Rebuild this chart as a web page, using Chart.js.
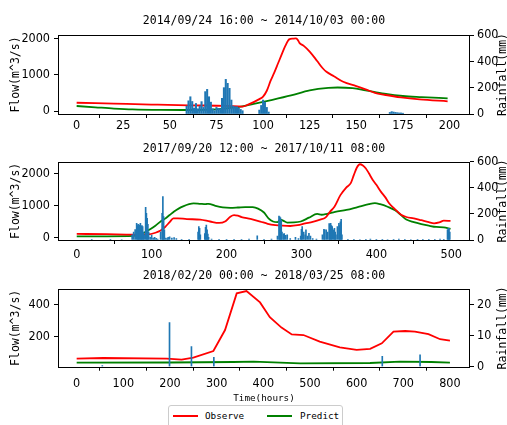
<!DOCTYPE html>
<html>
<head>
<meta charset="utf-8">
<script src="https://cdn.jsdelivr.net/npm/chart.js@4.4.1/dist/chart.umd.min.js"></script>
<style>
  html, body { margin: 0; padding: 0; background: #fff; width: 507px; height: 425px; overflow: hidden; position: relative; }
  canvas { position: absolute; left: 0; }
  #legend { position: absolute; left: 168px; top: 405px; width: 175px; height: 30px; border: 1px solid #ccc; border-radius: 3px; background: #fff; box-sizing: border-box; font: 9.3px "DejaVu Sans Mono", monospace; color: #000; }
  #legend .sw { position: absolute; height: 2px; top: 9px; width: 25px; }
  #legend .lb { position: absolute; top: 4px; line-height: 12px; }
</style>
</head>
<body>
<canvas id="panel1" width="510" height="135" style="top:0px"></canvas>
<canvas id="panel2" width="510" height="135" style="top:135px"></canvas>
<canvas id="panel3" width="510" height="142" style="top:262px"></canvas>
<div id="legend"></div>
<script>
const SERIES = ['Observe', 'Predict'];
const SERIES_COLORS = ['#ff0000', '#008000'];
const RAIN_COLOR = '#1f77b4';

const titles = [
  '2014/09/24 16:00 ~ 2014/10/03 00:00',
  '2017/09/20 12:00 ~ 2017/10/11 08:00',
  '2018/02/20 00:00 ~ 2018/03/25 08:00'
];

// panel 1
const obsHours1 = [0, 20, 40, 60, 80, 89, 92, 98, 100, 102, 104, 106, 108, 110, 112, 114, 116, 117.5, 118.5, 119.5, 122, 125, 129, 132, 134, 138, 143, 150, 155, 160, 165, 174, 184, 199];
const obsFlow1 = [230, 205, 180, 158, 145, 125, 180, 330, 400, 560, 830, 1060, 1310, 1560, 1800, 1975, 1995, 2000, 1970, 1880, 1790, 1640, 1380, 1180, 1082, 960, 807, 690, 600, 500, 450, 376, 321, 270];
const predHours1 = [0, 10, 20, 30, 45, 60, 75, 85, 95, 105, 115, 125, 135, 140, 148, 155, 165, 175, 185, 199];
const predFlow1 = [140, 105, 70, 45, 32, 30, 50, 100, 200, 310, 430, 570, 640, 650, 630, 570, 480, 415, 385, 350];
const rainHours1 = [59, 60, 61, 62, 63, 64, 65, 66, 67, 68, 69, 70, 71, 72, 73, 74, 75, 76, 77, 78, 79, 80, 81, 82, 83, 84, 85, 86, 87, 88, 89, 98, 99, 100, 101, 102, 103, 168, 169, 170, 171, 172, 173, 174, 175];
const rainMm1 = [60, 100, 131, 95, 45, 80, 40, 60, 94, 50, 170, 187, 131, 90, 40, 25, 50, 43, 40, 119, 200, 263, 233, 195, 106, 60, 55, 55, 45, 35, 25, 30, 65, 106, 90, 50, 15, 12, 18, 15, 12, 10, 8, 8, 6];
const xTicks1 = [0, 25, 50, 75, 100, 125, 150, 175, 200];
const flowTicks1 = [0, 1000, 2000];
const rainTicks1 = [0, 200, 400, 600];

// panel 2
const obsHours2 = [0, 40, 76, 95, 105, 112, 118, 124, 129, 135, 147, 165, 178, 190, 198, 205, 210, 215, 220, 232, 245, 255, 265, 275, 285, 295, 305, 315, 325, 332, 338, 344, 352, 360, 366, 370, 374, 378, 382, 386, 390, 395, 400, 406, 412, 417, 425, 433, 440, 450, 460, 470, 477, 484, 490, 499];
const obsFlow2 = [114, 105, 95, 100, 150, 220, 330, 480, 600, 600, 575, 560, 500, 455, 500, 650, 700, 680, 640, 580, 500, 430, 390, 370, 360, 385, 440, 490, 560, 620, 800, 960, 1320, 1560, 1700, 1950, 2180, 2280, 2240, 2150, 2000, 1800, 1640, 1430, 1250, 1070, 880, 710, 640, 600, 540, 480, 445, 470, 525, 518];
const predHours2 = [0, 40, 76, 85, 92, 98, 105, 112, 118, 124, 130, 136, 142, 150, 156, 165, 172, 176, 185, 195, 205, 215, 225, 235, 242, 250, 256, 262, 268, 272, 276, 281, 290, 299, 310, 321, 327, 333, 345, 360, 375, 390, 398, 405, 415, 425, 433, 440, 450, 460, 470, 480, 490, 499];
const predFlow2 = [40, 40, 52, 90, 180, 260, 370, 500, 590, 700, 810, 900, 970, 1040, 1065, 1050, 1040, 1050, 990, 940, 925, 935, 950, 945, 900, 780, 600, 500, 480, 560, 520, 466, 470, 500, 620, 736, 710, 730, 800, 860, 950, 1040, 1070, 1040, 960, 850, 700, 560, 480, 420, 370, 330, 320, 270];
const rainHours2 = [20, 45, 60, 74, 76, 78, 80, 81, 82, 83, 84, 85, 86, 87, 88, 89, 90, 92, 93, 94, 95, 96, 98, 100, 102, 104, 106, 108, 112, 114, 115, 116, 117, 119, 121, 122, 124, 127, 130, 133, 140, 150, 162, 163, 164, 165, 171, 172, 173, 174, 175, 176, 180, 190, 200, 210, 220, 230, 241, 250, 260, 268, 270, 271, 272, 273, 274, 276, 277, 279, 281, 285, 292, 296, 299, 300, 301, 303, 305, 306, 308, 310, 312, 315, 320, 328, 330, 331, 333, 335, 337, 338, 339, 340, 341, 343, 344, 345, 346, 348, 350, 351, 352, 353, 354, 362, 370, 378, 386, 392, 400, 408, 415, 423, 430, 438, 446, 455, 462, 470, 478, 485, 490, 495, 496, 497, 498];
const rainMm2 = [3, 3, 4, 40, 60, 80, 128, 110, 120, 100, 115, 128, 105, 110, 102, 60, 40, 250, 204, 166, 120, 60, 20, 38, 15, 20, 12, 8, 60, 204, 332, 180, 77, 15, 10, 20, 25, 15, 18, 10, 6, 5, 60, 102, 90, 40, 50, 97, 115, 77, 46, 20, 8, 5, 6, 5, 6, 8, 31, 6, 8, 30, 184, 178, 170, 153, 60, 45, 50, 35, 40, 10, 20, 10, 30, 82, 102, 60, 40, 77, 30, 51, 30, 10, 8, 40, 82, 77, 77, 60, 126, 115, 128, 110, 102, 77, 89, 60, 40, 102, 128, 110, 140, 158, 40, 5, 6, 4, 5, 8, 5, 6, 4, 5, 7, 5, 4, 6, 5, 6, 5, 7, 5, 77, 90, 89, 60];
const xTicks2 = [0, 100, 200, 300, 400, 500];
const flowTicks2 = [0, 1000, 2000];
const rainTicks2 = [0, 200, 400, 600];

// panel 3
const obsHours3 = [0, 57, 193, 225, 250, 293, 318, 343, 364, 393, 414, 439, 461, 486, 521, 564, 600, 629, 654, 679, 704, 725, 754, 779, 800];
const obsFlow3 = [64, 68, 64, 58, 70, 111, 241, 468, 482, 412, 320, 256, 214, 210, 169, 134, 118, 124, 159, 231, 235, 231, 216, 184, 175];
const predHours3 = [0, 200, 336, 379, 479, 629, 693, 760, 800];
const predFlow3 = [39, 40, 43, 45, 35, 37, 45, 43, 39];
const rainHours3 = [55, 199, 246, 294, 655, 736];
const rainMm3 = [0.4, 14.2, 6.5, 3.0, 3.3, 3.8];
const xTicks3 = [0, 100, 200, 300, 400, 500, 600, 700, 800];
const flowTicks3 = [200, 400];
const rainTicks3 = [0, 10, 20];

const MONO = '"DejaVu Sans Mono", monospace';
const TICK_FONT = '"Liberation Sans Narrow", "DejaVu Sans Condensed", "Liberation Sans", sans-serif';

function pairs(xs, ys) {
  return xs.map((x, i) => ({ x: x, y: ys[i] }));
}

// matplotlib style box round the plot area
const frame = {
  id: 'frame',
  afterDraw(chart) {
    const a = chart.chartArea;
    const ctx = chart.ctx;
    ctx.save();
    ctx.strokeStyle = '#000';
    ctx.lineWidth = 1;
    ctx.strokeRect(Math.round(a.left) + 0.5, Math.round(a.top) + 0.5, Math.round(a.right - a.left) - 1, Math.round(a.bottom - a.top));
    ctx.restore();
  }
};

// twin axis label, read bottom to top like matplotlib's
const rightTitle = {
  id: 'rightTitle',
  afterDraw(chart, args, opts) {
    const a = chart.chartArea;
    const ctx = chart.ctx;
    ctx.save();
    ctx.translate(opts.x, (a.top + a.bottom) / 2);
    ctx.rotate(-Math.PI / 2);
    ctx.font = '11.5px ' + MONO;
    ctx.fillStyle = '#000';
    ctx.textAlign = 'center';
    ctx.textBaseline = 'middle';
    ctx.fillText(opts.text, 0, 0);
    ctx.restore();
  }
};

function fixedTicks(list) {
  return function(scale) {
    scale.ticks = list.map(v => ({ value: v }));
  };
}

function tickMarks() {
  return { display: true, drawOnChartArea: false, drawTicks: true, tickLength: 4, color: '#000' };
}

function makePanel(id, p) {
  const ctx = document.getElementById(id);
  return new Chart(ctx, {
    type: 'line',
    data: {
      datasets: [
        {
          type: 'bar',
          label: 'Rainfall',
          data: pairs(p.rainHours, p.rainMm),
          yAxisID: 'y1',
          backgroundColor: RAIN_COLOR,
          barThickness: p.barWidth,
          order: 0
        },
        {
          label: SERIES[0],
          data: pairs(p.obsHours, p.obsFlow),
          yAxisID: 'y',
          borderColor: SERIES_COLORS[0],
          borderWidth: 1.8,
          pointRadius: 0,
          cubicInterpolationMode: p.smooth ? 'monotone' : 'default',
          tension: 0,
          order: 1
        },
        {
          label: SERIES[1],
          data: pairs(p.predHours, p.predFlow),
          yAxisID: 'y',
          borderColor: SERIES_COLORS[1],
          borderWidth: 1.8,
          pointRadius: 0,
          cubicInterpolationMode: p.smooth ? 'monotone' : 'default',
          tension: 0,
          order: 2
        }
      ]
    },
    options: {
      responsive: false,
      animation: false,
      devicePixelRatio: 1,
      layout: { padding: 0 },
      plugins: {
        legend: { display: false },
        tooltip: { enabled: false },
        title: {
          display: true,
          fullSize: false,
          text: p.title,
          color: '#000',
          font: { family: MONO, size: 11.5, weight: 'normal', lineHeight: 1.2 },
          padding: { top: p.titlePad[0], bottom: p.titlePad[1] }
        },
        rightTitle: { text: 'Rainfall(mm)', x: 503 }
      },
      scales: {
        x: {
          type: 'linear',
          min: p.xMin,
          max: p.xMax,
          offset: false,
          afterBuildTicks: fixedTicks(p.xTicks),
          afterFit: (s) => { s.height = p.xAxisH; },
          grid: tickMarks(),
          border: { display: false },
          ticks: {
            color: '#000', padding: p.xTickPad, autoSkip: false, maxRotation: 0,
            font: { family: TICK_FONT, size: 12.5 },
            callback: (v) => String(v)
          },
          title: {
            display: !!p.xTitle,
            text: p.xTitle || '',
            color: '#000',
            font: { family: MONO, size: 9.3, lineHeight: 1.2 },
            padding: { top: 0, bottom: 0 }
          }
        },
        y: {
          position: 'left',
          min: p.flowMin,
          max: p.flowMax,
          afterBuildTicks: fixedTicks(p.flowTicks),
          afterFit: (s) => { s.width = 58; },
          grid: tickMarks(),
          border: { display: false },
          ticks: {
            color: '#000', padding: 4,
            font: { family: TICK_FONT, size: 12.5 },
            callback: (v) => String(v)
          },
          title: {
            display: true,
            text: 'Flow(m^3/s)',
            color: '#000',
            font: { family: MONO, size: 11.5, lineHeight: 1.2 },
            padding: { top: 9, bottom: 0 }
          }
        },
        y1: {
          position: 'right',
          min: 0,
          max: p.rainMax,
          afterBuildTicks: fixedTicks(p.rainTicks),
          afterFit: (s) => { s.width = 40; },
          grid: tickMarks(),
          border: { display: false },
          ticks: {
            color: '#000', padding: 3,
            font: { family: TICK_FONT, size: 12.5 },
            callback: (v) => String(v)
          }
        }
      }
    },
    plugins: [frame, rightTitle]
  });
}

makePanel('panel1', {
  title: titles[0], titlePad: [14.6, 6.6], xAxisH: 21, xTickPad: 0,
  obsHours: obsHours1, obsFlow: obsFlow1, predHours: predHours1, predFlow: predFlow1,
  rainHours: rainHours1, rainMm: rainMm1, barWidth: 1.4, smooth: true,
  xMin: -10, xMax: 211, xTicks: xTicks1,
  flowMin: -80, flowMax: 2095, flowTicks: flowTicks1,
  rainMax: 600, rainTicks: rainTicks1
});

makePanel('panel2', {
  title: titles[1], titlePad: [7.1, 5.8], xAxisH: 30, xTickPad: 3.5,
  obsHours: obsHours2, obsFlow: obsFlow2, predHours: predHours2, predFlow: predFlow2,
  rainHours: rainHours2, rainMm: rainMm2, barWidth: 1, smooth: true,
  xMin: -25, xMax: 525, xTicks: xTicks2,
  flowMin: -75, flowMax: 2360, flowTicks: flowTicks2,
  rainMax: 600, rainTicks: rainTicks2
});

makePanel('panel3', {
  title: titles[2], titlePad: [7.1, 6.1], xAxisH: 37.3, xTickPad: 5.5, xTitle: 'Time(hours)',
  obsHours: obsHours3, obsFlow: obsFlow3, predHours: predHours3, predFlow: predFlow3,
  rainHours: rainHours3, rainMm: rainMm3, barWidth: 1, smooth: false,
  xMin: -40, xMax: 843, xTicks: xTicks3,
  flowMin: 14, flowMax: 495, flowTicks: flowTicks3,
  rainMax: 25, rainTicks: rainTicks3
});

// legend under the last panel, built from the series names
const legend = document.getElementById('legend');
const swatchLeft = [4, 98];
const labelLeft = [36, 131];
SERIES.forEach((name, i) => {
  const sw = document.createElement('span');
  sw.className = 'sw';
  sw.style.left = swatchLeft[i] + 'px';
  sw.style.background = SERIES_COLORS[i];
  const lb = document.createElement('span');
  lb.className = 'lb';
  lb.style.left = labelLeft[i] + 'px';
  lb.textContent = name;
  legend.appendChild(sw);
  legend.appendChild(lb);
});
</script>
</body>
</html>
